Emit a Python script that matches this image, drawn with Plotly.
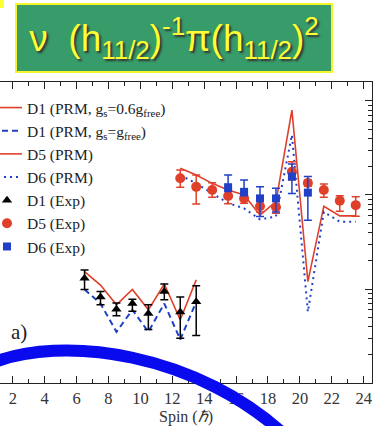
import plotly.graph_objects as go

# ---------------- data ----------------
spin_d1 = [6.5, 7.5, 8.5, 9.5, 10.5, 11.5, 12.5, 13.5]
d1_exp = [1.30, 0.82, 0.61, 0.70, 0.55, 0.94, 0.57, 0.73]
d1_exp_up = [0.29, 0.12, 0.10, 0.08, 0.13, 0.19, 0.25, 0.35]
d1_exp_dn = [0.31, 0.14, 0.09, 0.12, 0.18, 0.17, 0.27, 0.41]
d1_prm_06 = [1.53, 1.10, 0.68, 0.99, 0.60, 1.13, 0.47, 1.25]
d1_prm_free = [0.99, 0.70, 0.35, 0.60, 0.35, 0.70, 0.29, 0.73]

spin_d5 = [12.5, 13.5, 14.5, 15.5, 16.5, 17.5, 18.5, 19.5, 20.5, 21.5, 22.5, 23.5]
d5_exp = [15.1, 12.2, 11.3, 9.75, 9.2, 7.6, 7.4, 17.7, 13.4, 11.3, 8.7, 7.8]
d5_exp_up = [3.3, 4.1, 2.2, 2.0, 1.6, 1.6, 1.8, 4.9, 1.0, 1.8, 1.1, 1.8]
d5_exp_dn = [3.0, 4.2, 1.85, 1.7, 1.05, 1.0, 1.0, 3.3, 1.0, 1.85, 2.0, 1.85]
d5_prm = [19.2, 16.3, 13.3, 11.3, 10.0, 6.1, 8.5, 80.0, 1.2, 7.6, 6.0, 6.0]
d6_prm = [16.3, 13.3, 10.4, 8.2, 7.2, 5.5, 5.9, 43.5, 0.57, 6.6, 5.2, 5.2]

spin_d6 = [15.5, 16.5, 17.5, 18.5, 19.5, 20.5]
d6_exp = [12.1, 10.8, 9.2, 9.2, 15.7, 10.6]
d6_exp_up = [4.2, 3.6, 3.0, 2.6, 5.7, 5.1]
d6_exp_dn = [1.2, 1.0, 3.3, 2.6, 5.3, 5.2]

x_ticks = [2, 4, 6, 8, 10, 12, 14, 16, 18, 20, 22, 24]

# ---------------- style ----------------
RED = "#e0402a"
BLUE = "#2040c8"
SERIF = "Liberation Serif, Times New Roman, serif"

fig = go.Figure()

fig.add_trace(go.Scatter(x=spin_d1, y=d1_prm_06, mode="lines",
                         line=dict(color=RED, width=1.6),
                         name="D1 (PRM, g<sub>s</sub>=0.6g<sub>free</sub>)"))
fig.add_trace(go.Scatter(x=spin_d1, y=d1_prm_free, mode="lines",
                         line=dict(color=BLUE, width=2, dash="6px,4px"),
                         name="D1 (PRM, g<sub>s</sub>=g<sub>free</sub>)"))
fig.add_trace(go.Scatter(x=spin_d5, y=d5_prm, mode="lines",
                         line=dict(color=RED, width=1.6),
                         name="D5 (PRM)"))
fig.add_trace(go.Scatter(x=spin_d5, y=d6_prm, mode="lines",
                         line=dict(color=BLUE, width=2, dash="2px,4px"),
                         name="D6 (PRM)"))

fig.add_trace(go.Scatter(x=spin_d1, y=d1_exp, mode="markers",
                         marker=dict(symbol="triangle-up", size=9, color="black"),
                         error_y=dict(type="data", symmetric=False, array=d1_exp_up,
                                      arrayminus=d1_exp_dn, color="black",
                                      thickness=1.5, width=4),
                         name="D1 (Exp)"))
fig.add_trace(go.Scatter(x=spin_d5, y=d5_exp, mode="markers",
                         marker=dict(symbol="circle", size=10, color=RED),
                         error_y=dict(type="data", symmetric=False, array=d5_exp_up,
                                      arrayminus=d5_exp_dn, color=RED,
                                      thickness=1.5, width=4),
                         name="D5 (Exp)"))
fig.add_trace(go.Scatter(x=spin_d6, y=d6_exp, mode="markers",
                         marker=dict(symbol="square", size=8, color=BLUE),
                         error_y=dict(type="data", symmetric=False, array=d6_exp_up,
                                      arrayminus=d6_exp_dn, color=BLUE,
                                      thickness=1.5, width=4),
                         name="D6 (Exp)"))

# plot area geometry (pixels) used for decorations
PW, PH = 372.0, 301.0
def px(xp):
    return xp / PW
def py(yp):
    return (383.0 - yp) / PH

# big hand-drawn blue arc on the slide
arc = "M {},{} C {},{} {},{} {},{}".format(
    px(-10), py(364), px(60), py(334), px(200), py(352), px(290), py(440))

fig.update_layout(
    width=376, height=426,
    margin=dict(l=0, r=4, t=82, b=43),
    paper_bgcolor="white", plot_bgcolor="white",
    showlegend=True,
    legend=dict(x=0, y=py(91), xanchor="left", yanchor="top",
                bgcolor="rgba(0,0,0,0)", indentation=-13,
                font=dict(family=SERIF, size=15.5, color="#222"),
                tracegroupgap=0),
    xaxis=dict(range=[1.2, 24.52], tickmode="array", tickvals=x_ticks,
               ticktext=[str(t) for t in x_ticks],
               ticks="inside", ticklen=7, tickwidth=1.2, tickcolor="#222",
               minor=dict(ticks="inside", ticklen=4, dtick=1, tick0=1,
                          tickcolor="#222", tickwidth=1.2),
               showline=True, linecolor="#222", linewidth=1.3, mirror="ticks",
               showgrid=False, zeroline=False,
               tickfont=dict(family=SERIF, size=16.5, color="#333"),
               title=dict(text="Spin (<i>ℏ</i>)", standoff=2,
                          font=dict(family=SERIF, size=16, color="#333"))),
    yaxis=dict(type="log", range=[-1, 2.202], side="right",
               dtick=1, ticks="inside", ticklen=7, tickwidth=1.2, tickcolor="#222",
               minor=dict(ticks="inside", ticklen=4, dtick="D1",
                          tickcolor="#222", tickwidth=1.2),
               showticklabels=False,
               showline=True, linecolor="#222", linewidth=1.3, mirror=False,
               showgrid=False, zeroline=False),
    shapes=[
        dict(type="path", xref="paper", yref="paper", path=arc,
             line=dict(color="#0a0aee", width=12), layer="above"),
        dict(type="rect", xref="paper", yref="paper",
             x0=px(-2), x1=px(4), y0=py(8), y1=py(-2),
             fillcolor="#ffff33", line=dict(width=0)),
    ],
    annotations=[
        dict(text="a)", x=px(19), y=py(332), xref="paper", yref="paper",
             xanchor="center", yanchor="middle",
             showarrow=False, font=dict(family=SERIF, size=21, color="#222")),
        dict(text="ν\u00a0\u00a0(h<sub>11/2</sub>)<sup>-1</sup>π(h<sub>11/2</sub>)<sup>2</sup>",
             x=px(174), y=py(38), xref="paper", yref="paper", showarrow=False,
             xanchor="center", yanchor="middle",
             width=312, height=64, align="center", valign="middle",
             bgcolor="#379b6a", bordercolor="#f5f52a", borderwidth=2, borderpad=1,
             font=dict(family="Liberation Sans, Arial, sans-serif", size=37,
                       color="#ffff33", shadow="2px 2px 2px #333")),
    ],
)

fig.write_html("out.html")
